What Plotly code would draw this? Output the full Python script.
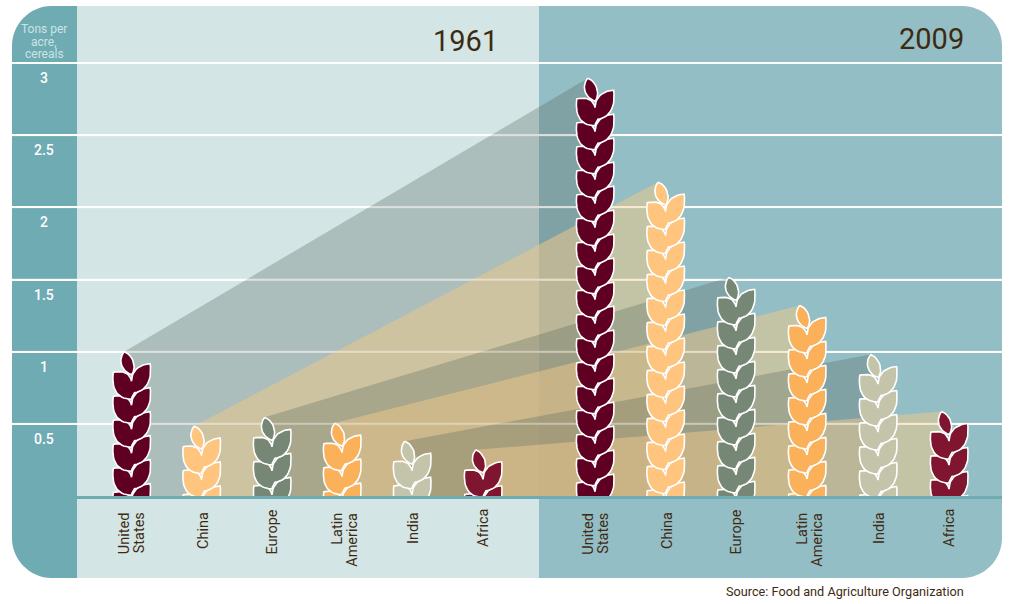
import plotly.graph_objects as go

regions = ["United<br>States", "China", "Europe", "Latin<br>America", "India", "Africa"]
yield_1961 = [1.00, 0.485, 0.545, 0.505, 0.38, 0.32]
yield_2009 = [2.895, 2.175, 1.515, 1.32, 0.98, 0.585]
y_ticks = [0.5, 1, 1.5, 2, 2.5, 3]
y_labels = ["0.5", "1", "1.5", "2", "2.5", "3"]
header_lines = ["Tons per", "acre,", "cereals"]

W, H = 1013, 604
L, R, T, B = 12, 1002, 6, 578
SPLIT, COL = 539, 77
Y0, Y3 = 496, 63
PPU = (Y0 - Y3) / 3.0
X_1961 = [131.5, 201.5, 272, 342, 412, 483]
X_2009 = [595, 665.5, 736, 807, 878, 949]
# vertical centre (px) of each line of each label; horizontal nudge of each label
LABEL_Y = [[533.5, 533], [531], [532.5], [528.5, 540], [528.5], [528]]
LABEL_DX = [0.5, 1.5, 0, 2.5, 1.5, 0]

leaf_colors = ["#5F0022", "#FFC47E", "#768776", "#FBB05A", "#C3C4AA", "#7F152E"]
DARK = "rgba(83,100,89,0.30)"
TAN = "rgba(233,199,140,0.55)"
band_colors = [DARK, TAN, DARK, TAN, DARK, TAN]

FG = "#3E2A12"
SANS = "Roboto, Arial, sans-serif"


def bez(p0, p1, p2, p3, n=14):
    out = []
    for i in range(n + 1):
        t = i / n
        a, b, c, d = (1 - t) ** 3, 3 * t * (1 - t) ** 2, 3 * t * t * (1 - t), t ** 3
        out.append((a * p0[0] + b * p1[0] + c * p2[0] + d * p3[0],
                    a * p0[1] + b * p1[1] + c * p2[1] + d * p3[1]))
    return out


def chevron_outline():
    A = (0, 29.5)
    Tip = (18.6, 12)
    Btm_r = (3, 41)
    Btm = (0, 47.5)
    Lt = (-18.2, 20.7)
    pts = bez(A, (0.3, 19.5), (6.5, 13), Tip)
    pts += bez(Tip, (21, 27), (15.5, 39.5), Btm_r)
    pts += bez(Btm_r, (1.5, 43), (0.5, 45), Btm)
    pts += bez(Btm, (-13.5, 47.5), (-20.5, 38.5), Lt)
    pts += bez(Lt, (-7.5, 18.5), (-1.8, 21.5), A)
    return pts


def bud_outline():
    tip = (-7.3, 0)
    end = (0, 23)
    return bez(tip, (2, 3.5), (5.5, 16.5), end) + bez(end, (-10, 19.5), (-14, 8.5), tip)


CHEV = chevron_outline()
BUD = bud_outline()
PERIOD = 24.0
OUTLINE = dict(color="white", width=1.6)


def add_stalk(fig, cx, value, color):
    height = value * PPU
    n = 0
    while 12 + PERIOD * n < height:
        n += 1
    for i in range(n - 1, -1, -1):
        xs = [cx + p[0] for p in CHEV]
        ys = [value - (p[1] + PERIOD * i) / PPU for p in CHEV]
        fig.add_trace(go.Scatter(x=xs, y=ys, mode="lines", fill="toself", fillcolor=color,
                                 line=OUTLINE, hoverinfo="skip", showlegend=False))
    xs = [cx + p[0] for p in BUD]
    ys = [value - p[1] / PPU for p in BUD]
    fig.add_trace(go.Scatter(x=xs, y=ys, mode="lines", fill="toself", fillcolor=color,
                             line=OUTLINE, hoverinfo="skip", showlegend=False))


def px(x):
    return x / W


def py(y):
    return 1 - y / H


def pnt(x, y):
    return f"{px(x):.5f},{py(y):.5f}"


def panel(x0, x1, y0, y1, r_left, r_right):
    k = 0.45
    s = f"M{pnt(x0 + r_left, y0)} L{pnt(x1 - r_right, y0)} "
    if r_right:
        s += f"C{pnt(x1 - r_right * k, y0)} {pnt(x1, y0 + r_right * k)} {pnt(x1, y0 + r_right)} "
    s += f"L{pnt(x1, y1 - r_right)} "
    if r_right:
        s += f"C{pnt(x1, y1 - r_right * k)} {pnt(x1 - r_right * k, y1)} {pnt(x1 - r_right, y1)} "
    s += f"L{pnt(x0 + r_left, y1)} "
    if r_left:
        s += f"C{pnt(x0 + r_left * k, y1)} {pnt(x0, y1 - r_left * k)} {pnt(x0, y1 - r_left)} "
    s += f"L{pnt(x0, y0 + r_left)} "
    if r_left:
        s += f"C{pnt(x0, y0 + r_left * k)} {pnt(x0 + r_left * k, y0)} {pnt(x0 + r_left, y0)} "
    return s + "Z"


fig = go.Figure()

TIP_DX = -7.3
for i in range(len(regions)):
    x0, x1 = X_1961[i] + TIP_DX, X_2009[i] + TIP_DX
    fig.add_trace(go.Scatter(
        x=[x0, x1, x1, x0, x0], y=[yield_1961[i], yield_2009[i], 0, 0, yield_1961[i]],
        mode="lines", fill="toself", fillcolor=band_colors[i], line=dict(width=0),
        hoverinfo="skip", showlegend=False))

# faint grid lines showing through the bands
gx, gy = [], []
for v in y_ticks:
    gx += [L, R, None]
    gy += [v, v, None]
fig.add_trace(go.Scatter(x=gx, y=gy, mode="lines", line=dict(color="rgba(255,255,255,0.35)", width=2),
                         hoverinfo="skip", showlegend=False))

for xs_, vals in ((X_1961, yield_1961), (X_2009, yield_2009)):
    for i in range(len(regions)):
        add_stalk(fig, xs_[i], vals[i], leaf_colors[i])

shapes = [
    dict(type="path", path=panel(L, SPLIT, T, B, 40, 0), xref="paper", yref="paper",
         fillcolor="#D3E6E5", line=dict(width=0), layer="below"),
    dict(type="path", path=panel(SPLIT, R, T, B, 0, 40), xref="paper", yref="paper",
         fillcolor="#94BEC5", line=dict(width=0), layer="below"),
    dict(type="path", path=panel(L, COL, T, B, 40, 0), xref="paper", yref="paper",
         fillcolor="#6EABB3", line=dict(width=0), layer="below"),
]


def label(text, x, y, size, color, xref="paper", yref="paper", xanchor="center", angle=0, yshift=0, xshift=0, **fkw):
    return dict(x=x, xref=xref, y=y, yref=yref, text=text, showarrow=False, xanchor=xanchor, yanchor="middle",
                align="center", textangle=angle, yshift=yshift, xshift=xshift,
                font=dict(family=SANS, size=size, color=color, **fkw))


annotations = []
for v, t in zip(y_ticks, y_labels):
    annotations.append(label(t, px(44), v, 14, "white", yref="y", yshift=-15, weight=500))
for line, yy in zip(header_lines, (29, 41.5, 54)):
    annotations.append(label(line, px(44), py(yy), 12, "#CBE4E4"))
annotations.append(label("1961", px(465), py(41), 29, FG))
annotations.append(label("2009", px(931), py(39), 29, FG))
for xs_ in (X_1961, X_2009):
    for i, name in enumerate(regions):
        lines = name.split("<br>")
        for j, line in enumerate(lines):
            shift = (j - (len(lines) - 1) / 2) * 14.6
            annotations.append(label(line, xs_[i] + LABEL_DX[i], py(LABEL_Y[i][j]), 14.5, FG, xref="x", angle=-90,
                                     xshift=shift))
annotations.append(label("Source: Food and Agriculture Organization", px(966), py(591), 12.7, FG, xanchor="right"))

fig.update_layout(
    width=W, height=H, margin=dict(l=0, r=0, t=0, b=0),
    paper_bgcolor="white", plot_bgcolor="rgba(0,0,0,0)", showlegend=False,
    shapes=shapes, annotations=annotations,
    xaxis=dict(domain=[px(L), px(R)], range=[L, R], showgrid=False, zeroline=False, showticklabels=False,
               ticks="", showline=True, linecolor="#6EABB3", linewidth=3, fixedrange=True),
    yaxis=dict(domain=[py(Y0), py(T)], range=[0, (Y0 - T) / PPU], tickvals=y_ticks, showticklabels=False,
               ticks="", showgrid=True, gridcolor="white", gridwidth=2, zeroline=False, showline=False,
               fixedrange=True),
)
fig.write_html("out.html", config=dict(displayModeBar=False),
               post_script="document.body.style.margin='0';document.body.style.overflow='hidden';")
